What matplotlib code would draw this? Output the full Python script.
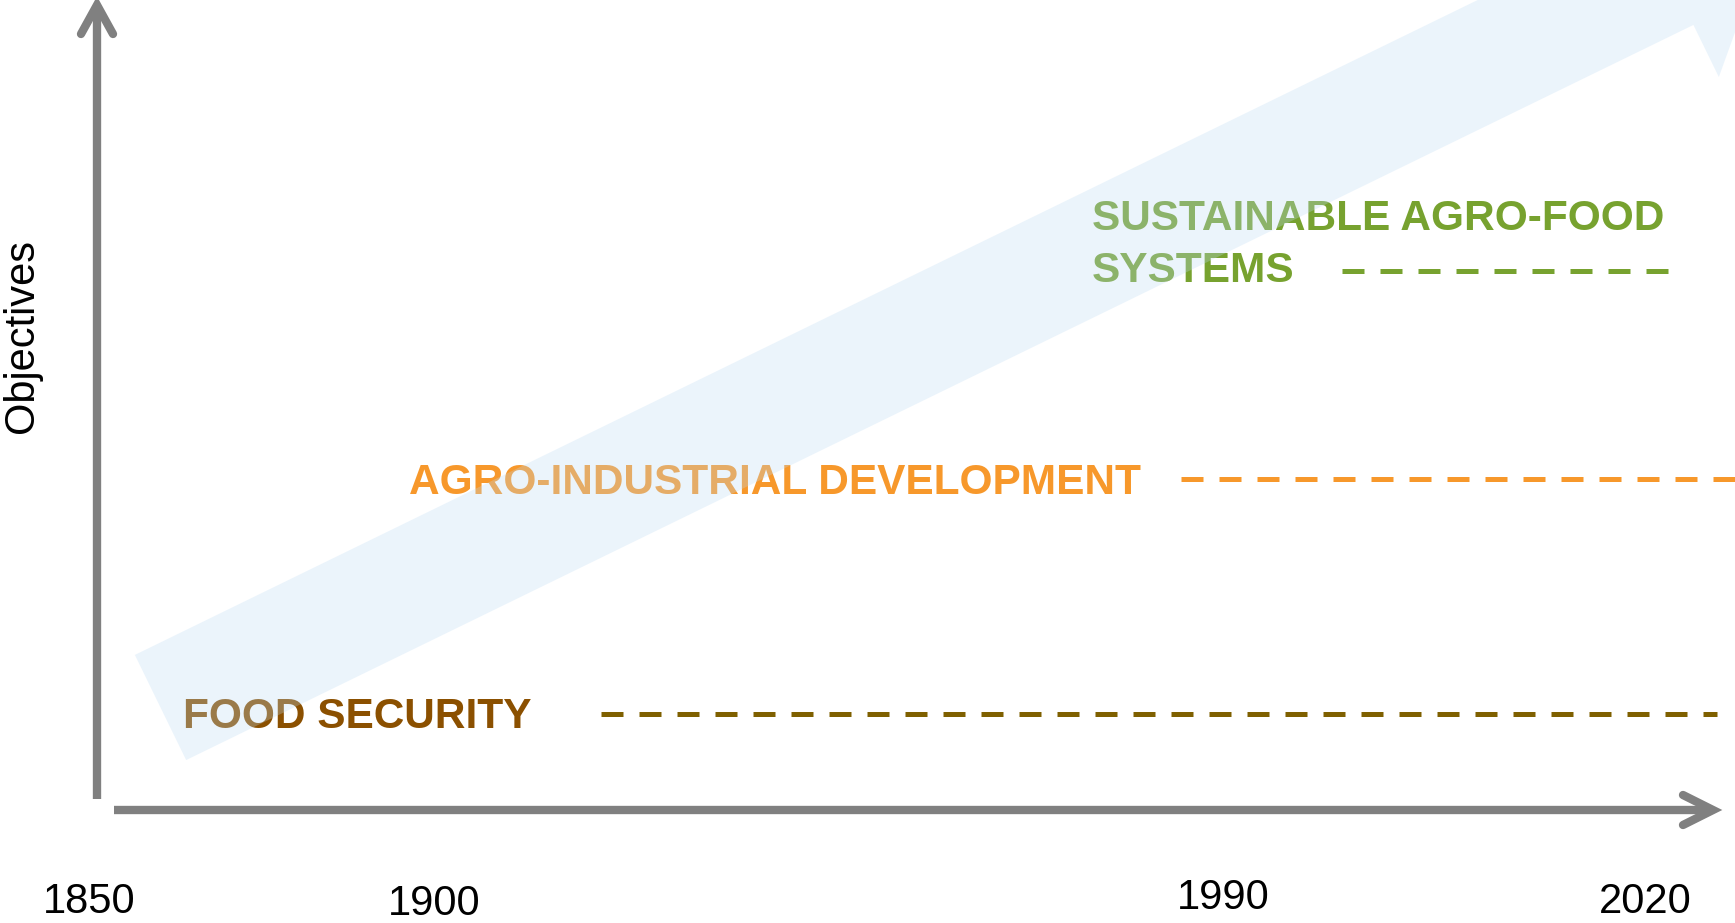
import numpy as np
import matplotlib
matplotlib.use("Agg")
from matplotlib import pyplot as plt
from matplotlib.patches import FancyArrow

# chart content
objectives = ["FOOD SECURITY", "AGRO-INDUSTRIAL DEVELOPMENT", "SUSTAINABLE AGRO-FOOD\nSYSTEMS"]
years = ["1850", "1900", "1990", "2020"]
y_label = "Objectives"

# styles / layout (pixel space, y down)
W, H = 1735, 923
grey = "#808080"
text_colors = ["#8B5000", "#F7982B", "#77A22F"]
dash_colors = ["#7F6000", "#F7982B", "#77A22F"]
text_pos = [(183, 728), (409, 494), (1092, 230)]
dash_span = [(601, 714, 1717), (1181, 479, 1735), (1342, 271, 1669)]
year_pos = [(89, 913), (434, 915), (1223, 909), (1645, 913)]

plt.rcParams["font.family"] = ["Liberation Sans", "DejaVu Sans"]

fig = plt.figure(figsize=(W / 100, H / 100), dpi=100)
ax = fig.add_axes([0, 0, 1, 1])
ax.set_xlim(0, W)
ax.set_ylim(H, 0)
ax.axis("off")

# axes arrows
lw = 6
ax.plot([97, 97], [799, 6], color=grey, lw=lw, solid_capstyle="butt")
ax.plot([81, 97, 113], [34, 5, 34], color=grey, lw=lw, solid_capstyle="round", solid_joinstyle="miter")
ax.plot([114, 1708], [810, 810], color=grey, lw=lw, solid_capstyle="butt")
ax.plot([1683, 1713, 1683], [795, 810, 825], color=grey, lw=lw, solid_capstyle="round", solid_joinstyle="miter")

ax.text(22, 336, y_label, rotation=90, ha="center", va="center", fontsize=30, color="black")

# objective labels, one line at a time
for label, color, (x, y) in zip(objectives, text_colors, text_pos):
    for i, line in enumerate(label.split("\n")):
        ax.text(x, y + 52 * i, line, ha="left", va="baseline", fontsize=30.5,
                fontweight="bold", color=color, zorder=2)

for color, (x0, y, x1) in zip(dash_colors, dash_span):
    ax.plot([x0, x1], [y, y], color=color, lw=3.6, linestyle=(0, (4.4, 3.2)),
            dash_capstyle="butt", zorder=2)

for label, (x, y) in zip(years, year_pos):
    ax.text(x, y, label, ha="center", va="baseline", fontsize=30, color="black")

# big translucent trend arrow over the labels
start = np.array([160.5, 707.5])
u = np.array([1507.0, -735.0])
u /= np.linalg.norm(u)
length = 1797
ax.add_patch(FancyArrow(start[0], start[1], u[0] * length, u[1] * length,
                        width=117, head_width=233, head_length=120,
                        length_includes_head=True, color="#BEDCF4", alpha=0.3,
                        lw=0, zorder=3))

fig.savefig("out.png", dpi=100)
